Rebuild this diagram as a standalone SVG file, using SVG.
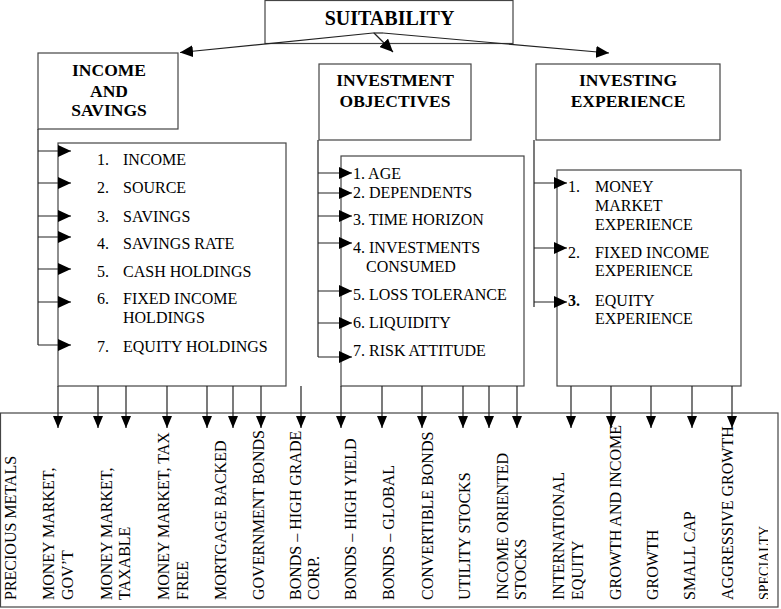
<svg xmlns="http://www.w3.org/2000/svg" width="781" height="609" viewBox="0 0 781 609">
<style>
  .box { fill: #fff; stroke: #444; stroke-width: 1.2; }
  .ln { stroke: #222; stroke-width: 1.2; fill: none; }
  .arr { stroke: #222; stroke-width: 1.2; fill: none; marker-end: url(#ah); }
  .arrs { stroke: #222; stroke-width: 1.2; fill: none; marker-end: url(#ahs); }
  .hd { font-family: "Liberation Serif", "Times New Roman", serif; font-weight: bold; font-size: 17.5px; text-anchor: middle; fill: #000; }
  .t { font-family: "Liberation Serif", "Times New Roman", serif; font-size: 16px; fill: #000; }
  .v { font-family: "Liberation Serif", "Times New Roman", serif; font-size: 16px; fill: #000; }
</style>
<defs>
  <marker id="ah" markerUnits="userSpaceOnUse" markerWidth="13" markerHeight="12" refX="13" refY="6" orient="auto">
    <path d="M0,0 L13,6 L0,12 z" fill="#000"/>
  </marker>
  <marker id="ahs" markerUnits="userSpaceOnUse" markerWidth="12" markerHeight="10" refX="12" refY="5" orient="auto">
    <path d="M0,0 L12,5 L0,10 z" fill="#000"/>
  </marker>
  <clipPath id="clipR"><rect x="0" y="0" width="768" height="609"/></clipPath>
</defs>
<rect width="781" height="609" fill="#fff"/>

<g id="bottom-box">
  <rect class="box" x="0.5" y="413" width="777.5" height="194"/>
</g>

<g id="suitability">
  <rect class="box" x="265" y="0.5" width="248" height="43"/>
  <text class="hd" x="389.5" y="25" style="font-size:20px">SUITABILITY</text>
</g>

<g id="income-savings">
  <rect class="box" x="38" y="53" width="140" height="76"/>
  <text class="hd" x="109" y="76">INCOME</text>
  <text class="hd" x="109" y="96.5">AND</text>
  <text class="hd" x="109" y="116">SAVINGS</text>
</g>

<g id="investment-objectives">
  <rect class="box" x="319" y="64" width="152" height="76"/>
  <text class="hd" x="395" y="86">INVESTMENT</text>
  <text class="hd" x="395" y="107">OBJECTIVES</text>
</g>

<g id="investing-experience">
  <rect class="box" x="536" y="64" width="184" height="76"/>
  <text class="hd" x="628" y="86">INVESTING</text>
  <text class="hd" x="628" y="107">EXPERIENCE</text>
</g>

<g id="income-list">
  <rect class="box" x="58" y="143" width="228" height="243"/>
  <text class="t" x="97" y="164.5">1.</text><text class="t" x="123" y="164.5">INCOME</text>
  <text class="t" x="97" y="192.5">2.</text><text class="t" x="123" y="192.5">SOURCE</text>
  <text class="t" x="97" y="221.5">3.</text><text class="t" x="123" y="221.5">SAVINGS</text>
  <text class="t" x="97" y="248.5">4.</text><text class="t" x="123" y="248.5">SAVINGS RATE</text>
  <text class="t" x="97" y="276.5">5.</text><text class="t" x="123" y="276.5">CASH HOLDINGS</text>
  <text class="t" x="97" y="303.5">6.</text><text class="t" x="123" y="303.5">FIXED INCOME</text>
  <text class="t" x="123" y="322.5">HOLDINGS</text>
  <text class="t" x="97" y="351.5">7.</text><text class="t" x="123" y="351.5">EQUITY HOLDINGS</text>
</g>

<g id="objectives-list">
  <rect class="box" x="341" y="156" width="183" height="230"/>
  <text class="t" x="353" y="178.5">1. AGE</text>
  <text class="t" x="353" y="197.5">2. DEPENDENTS</text>
  <text class="t" x="353" y="224.5">3. TIME HORIZON</text>
  <text class="t" x="353" y="252.5">4. INVESTMENTS</text>
  <text class="t" x="366" y="271.5">CONSUMED</text>
  <text class="t" x="353" y="299.5">5. LOSS TOLERANCE</text>
  <text class="t" x="353" y="327.5">6. LIQUIDITY</text>
  <text class="t" x="353" y="355.5">7. RISK ATTITUDE</text>
</g>

<g id="experience-list">
  <rect class="box" x="557" y="170" width="184" height="216"/>
  <text class="t" x="568" y="191.5">1.</text><text class="t" x="595" y="191.5">MONEY</text>
  <text class="t" x="595" y="210.5">MARKET</text>
  <text class="t" x="595" y="229.5">EXPERIENCE</text>
  <text class="t" x="568" y="257.5">2.</text><text class="t" x="595" y="257.5">FIXED INCOME</text>
  <text class="t" x="595" y="275.5">EXPERIENCE</text>
  <text class="t" x="568" y="305.5" font-weight="bold">3.</text><text class="t" x="595" y="305.5">EQUITY</text>
  <text class="t" x="595" y="323.5">EXPERIENCE</text>
</g>

<g id="connectors">
  <!-- from SUITABILITY -->
  <path class="arr" d="M373,33 L180,52.5"/>
  <path class="arr" d="M374,33 L393,52"/>
  <path class="ln" d="M373,33 L383,33"/>
  <path class="arr" d="M383,33 L609,53"/>
  <!-- income side bar -->
  <path class="ln" d="M38,129 L38,345"/>
  <path class="arr" d="M38,151 L71,151"/>
  <path class="arr" d="M38,183 L71,183"/>
  <path class="arr" d="M38,216 L71,216"/>
  <path class="arr" d="M38,237 L71,237"/>
  <path class="arr" d="M38,269 L71,269"/>
  <path class="arr" d="M38,302 L71,302"/>
  <path class="arr" d="M38,345 L71,345"/>
  <!-- objectives side bar -->
  <path class="ln" d="M318,140 L318,357"/>
  <path class="arr" d="M318,173 L352,173"/>
  <path class="arr" d="M318,193 L352,193"/>
  <path class="arr" d="M318,216 L352,216"/>
  <path class="arr" d="M318,243 L352,243"/>
  <path class="arr" d="M318,291 L352,291"/>
  <path class="arr" d="M318,323 L352,323"/>
  <path class="arr" d="M318,357 L352,357"/>
  <!-- experience side bar -->
  <path class="ln" d="M534,140 L534,307"/>
  <path class="arr" d="M534,183 L567,183"/>
  <path class="arr" d="M534,248 L567,248"/>
  <path class="arr" d="M534,302 L567,302"/>
  <!-- down arrows -->
  <path class="arrs" d="M58,386 L58,428"/>
  <path class="arrs" d="M98,386 L98,428"/>
  <path class="arrs" d="M126,386 L126,428"/>
  <path class="arrs" d="M167,386 L167,428"/>
  <path class="arrs" d="M207,386 L207,428"/>
  <path class="arrs" d="M233,386 L233,428"/>
  <path class="arrs" d="M261,386 L261,428"/>
  <path class="arrs" d="M301,386 L301,428"/>
  <path class="arrs" d="M341,386 L341,428"/>
  <path class="arrs" d="M382,386 L382,428"/>
  <path class="arrs" d="M422,386 L422,428"/>
  <path class="arrs" d="M463,386 L463,428"/>
  <path class="arrs" d="M489,386 L489,428"/>
  <path class="arrs" d="M517,386 L517,428"/>
  <path class="arrs" d="M571,386 L571,428"/>
  <path class="arrs" d="M611,386 L611,428"/>
  <path class="arrs" d="M651,386 L651,428"/>
  <path class="arrs" d="M692,386 L692,428"/>
  <path class="arrs" d="M732,386 L732,428"/>
</g>

<g id="asset-classes">
  <text class="v" transform="translate(15.5,600) rotate(-90)">PRECIOUS METALS</text>
  <text class="v" transform="translate(53.5,600) rotate(-90)">MONEY MARKET,<tspan x="0" dy="19">GOV’T</tspan></text>
  <text class="v" transform="translate(111.5,600) rotate(-90)">MONEY MARKET,<tspan x="0" dy="18.5">TAXABLE</tspan></text>
  <text class="v" transform="translate(168.5,600) rotate(-90)">MONEY MARKET, TAX<tspan x="0" dy="19">FREE</tspan></text>
  <text class="v" transform="translate(225.5,600) rotate(-90)">MORTGAGE BACKED</text>
  <text class="v" transform="translate(263.5,600) rotate(-90)">GOVERNMENT BONDS</text>
  <text class="v" transform="translate(300.5,600) rotate(-90)">BONDS – HIGH GRADE<tspan x="0" dy="18.5">CORP.</tspan></text>
  <text class="v" transform="translate(355.5,600) rotate(-90)">BONDS – HIGH YIELD</text>
  <text class="v" transform="translate(393.5,600) rotate(-90)">BONDS – GLOBAL</text>
  <text class="v" transform="translate(432.5,600) rotate(-90)">CONVERTIBLE BONDS</text>
  <text class="v" transform="translate(469.5,600) rotate(-90)">UTILITY STOCKS</text>
  <text class="v" transform="translate(507.5,600) rotate(-90)">INCOME ORIENTED<tspan x="0" dy="18.5">STOCKS</tspan></text>
  <text class="v" transform="translate(563.5,600) rotate(-90)">INTERNATIONAL<tspan x="0" dy="19">EQUITY</tspan></text>
  <text class="v" transform="translate(620.5,600) rotate(-90)">GROWTH AND INCOME</text>
  <text class="v" transform="translate(657.5,600) rotate(-90)">GROWTH</text>
  <text class="v" transform="translate(694.5,600) rotate(-90)">SMALL CAP</text>
  <text class="v" transform="translate(732.5,600) rotate(-90)">AGGRESSIVE GROWTH</text>
  <g clip-path="url(#clipR)">
    <text class="v" style="font-size:14px" transform="translate(769,600) rotate(-90)">SPECIALTY</text>
  </g>
</g>
</svg>
